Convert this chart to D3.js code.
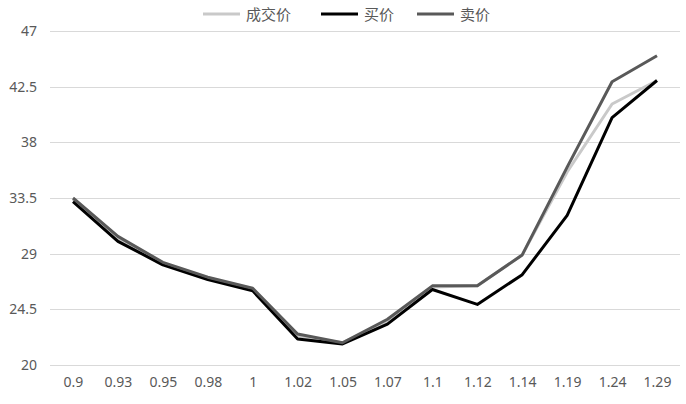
<!DOCTYPE html>
<html>
<head>
<meta charset="utf-8">
<script src="https://cdn.jsdelivr.net/npm/d3@7"></script>
<style>
  body { margin: 0; background: #fff; }
  text { font-family: "Noto Sans", "Noto Sans CJK SC", sans-serif; fill: #595959; }
</style>
</head>
<body>
<div id="chart"></div>
<script>
const categories = ["0.9", "0.93", "0.95", "0.98", "1", "1.02", "1.05", "1.07", "1.1", "1.12", "1.14", "1.19", "1.24", "1.29"];
const tradePrice = [33.4, 30.2, 28.2, 27.0, 26.1, 22.3, 21.8, 23.5, 26.3, 26.4, 28.9, 35.6, 41.1, 43.0];
const bidPrice = [33.2, 30.0, 28.1, 26.9, 26.0, 22.1, 21.7, 23.3, 26.1, 24.9, 27.3, 32.1, 40.0, 43.0];
const askPrice = [33.5, 30.4, 28.3, 27.1, 26.2, 22.5, 21.8, 23.7, 26.4, 26.4, 28.9, 36.0, 42.9, 45.0];
const yTicks = [20, 24.5, 29, 33.5, 38, 42.5, 47];
const seriesNames = ["成交价", "买价", "卖价"];

const width = 686;
const height = 404;
const plotLeft = 50, plotRight = 680, plotTop = 31, plotBottom = 365;

const series = [
  { name: seriesNames[0], values: tradePrice, color: "#c9c9c9" },
  { name: seriesNames[1], values: bidPrice, color: "#000000" },
  { name: seriesNames[2], values: askPrice, color: "#595959" }
];

let svg = d3.select("#chart")
  .append("svg")
  .attr("width", width)
  .attr("height", height);

let xScale = d3.scalePoint()
  .domain(categories)
  .range([73, 657]);

let yScale = d3.scaleLinear()
  .domain([20, 47])
  .range([plotBottom, plotTop]);

// grid lines
svg.append("g")
  .selectAll("line")
  .data(yTicks)
  .join("line")
  .attr("x1", plotLeft)
  .attr("x2", plotRight)
  .attr("y1", d => Math.round(yScale(d)) + 0.5)
  .attr("y2", d => Math.round(yScale(d)) + 0.5)
  .attr("stroke", "#d9d9d9")
  .attr("stroke-width", 1);

// y axis labels
let yAxis = d3.axisLeft(yScale)
  .tickValues(yTicks)
  .tickSize(0)
  .tickPadding(0)
  .tickFormat(d => d);

svg.append("g")
  .attr("transform", "translate(37,0)")
  .call(yAxis)
  .call(g => g.select(".domain").remove())
  .selectAll("text")
  .attr("font-size", "14px")
  .style("fill", "#595959");

// x axis labels
let xAxis = d3.axisBottom(xScale)
  .tickSize(0)
  .tickPadding(0);

svg.append("g")
  .attr("transform", "translate(0,377)")
  .call(xAxis)
  .call(g => g.select(".domain").remove())
  .selectAll("text")
  .attr("font-size", "14px")
  .style("fill", "#595959");

// lines
let line = d3.line()
  .x((d, i) => xScale(categories[i]))
  .y(d => yScale(d));

series.forEach(s => {
  svg.append("path")
    .datum(s.values)
    .attr("d", line)
    .attr("fill", "none")
    .attr("stroke", s.color)
    .attr("stroke-width", 3)
    .attr("stroke-linejoin", "round");
});

// legend
const legendX = [203, 321, 417];
series.forEach((s, i) => {
  let g = svg.append("g").attr("transform", `translate(${legendX[i]},14)`);
  g.append("line")
    .attr("x1", 0).attr("x2", 37)
    .attr("y1", 0).attr("y2", 0)
    .attr("stroke", s.color)
    .attr("stroke-width", 3);
  g.append("text")
    .attr("x", 43)
    .attr("y", 5.5)
    .attr("font-size", "15px")
    .style("font-family", "'Noto Sans CJK SC', sans-serif")
    .text(s.name);
});
</script>
</body>
</html>
